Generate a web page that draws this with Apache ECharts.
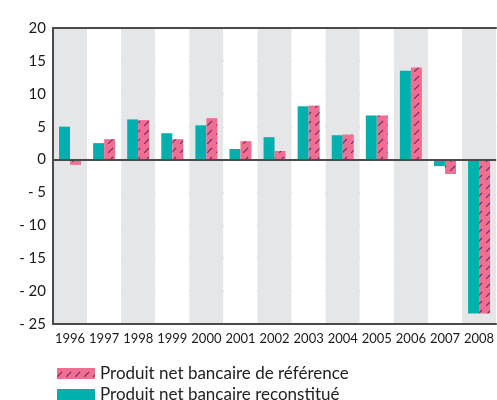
<!DOCTYPE html>
<html>
<head>
<meta charset="utf-8">
<script src="https://cdn.jsdelivr.net/npm/echarts@6/dist/echarts.min.js"></script>
<style>
  html, body { margin: 0; padding: 0; background: #fff; }
  #chart { width: 497px; height: 400px; }
</style>
</head>
<body>
<div id="chart"></div>
<script>
// années
var years = ['1996', '1997', '1998', '1999', '2000', '2001', '2002', '2003', '2004', '2005', '2006', '2007', '2008']
// PNB reconstitué (barres turquoise)
var pnbReconstitue = [5.0, 2.5, 6.1, 4.0, 5.2, 1.6, 3.4, 8.1, 3.7, 6.7, 13.5, -1.0, -23.4]
// PNB de référence (barres roses hachurées)
var pnbReference = [-0.8, 3.1, 6.0, 3.1, 6.3, 2.8, 1.3, 8.2, 3.8, 6.7, 14.0, -2.2, -23.4]
var legendNames = ['Produit net bancaire de référence', 'Produit net bancaire reconstitué']

// motif hachuré pour la série de référence
function hatch() {
  var c = document.createElement('canvas')
  c.width = 9
  c.height = 9
  var ctx = c.getContext('2d')
  ctx.fillStyle = '#ef6f92'
  ctx.fillRect(0, 0, 9, 9)
  ctx.strokeStyle = '#7d2a6c'
  ctx.lineWidth = 1.2
  ctx.beginPath()
  ctx.moveTo(0, 9)
  ctx.lineTo(5, 4)
  ctx.stroke()
  return c
}

var chart = echarts.init(document.getElementById('chart'))
var font = 'Lato, "DejaVu Sans", sans-serif'
var dark = { color: '#4a4a4a', width: 2 }

chart.setOption({
  animationDuration: 1,
  animationDurationUpdate: 1,
  grid: { left: 53, right: -3, top: 28, bottom: 76 },
  legend: {
    orient: 'vertical',
    left: 52,
    top: 360,
    height: 40,
    itemWidth: 38,
    itemHeight: 11,
    itemGap: 4,
    icon: 'rect',
    selectedMode: false,
    data: legendNames,
    textStyle: { fontSize: 17, color: '#222', fontFamily: font }
  },
  xAxis: [
    {
      type: 'category',
      data: years,
      position: 'bottom',
      axisLine: { onZero: false, lineStyle: dark },
      axisTick: { show: false },
      axisLabel: { color: '#1a1a1a', fontSize: 13, margin: 8, interval: 0, fontFamily: font },
      splitArea: { show: true, interval: 0, areaStyle: { color: ['#e5e6e8', '#ffffff'] } }
    },
    {
      type: 'category',
      data: years,
      position: 'top',
      axisLine: { onZero: false, lineStyle: dark },
      axisTick: { show: false },
      axisLabel: { show: false }
    }
  ],
  yAxis: {
    type: 'value',
    min: -25,
    max: 20,
    interval: 5,
    axisLine: { show: true, onZero: false, lineStyle: dark },
    axisTick: { show: false },
    axisLabel: {
      color: '#1a1a1a',
      fontSize: 15,
      margin: 7,
      fontFamily: font,
      formatter: function (v) { return v < 0 ? '- ' + (-v) : String(v) }
    },
    splitLine: { show: true, lineStyle: { color: '#b3b3b3', width: 2 } }
  },
  series: [
    {
      name: legendNames[1],
      type: 'bar',
      data: pnbReconstitue,
      barWidth: 11,
      barGap: '0%',
      itemStyle: { color: '#00b0ad' },
      markLine: {
        silent: true,
        symbol: 'none',
        label: { show: false },
        lineStyle: { color: '#4a4a4a', width: 2, type: 'solid' },
        data: [{ yAxis: 0 }]
      }
    },
    {
      name: legendNames[0],
      type: 'bar',
      data: pnbReference,
      barWidth: 11,
      barGap: '0%',
      itemStyle: { color: { image: hatch(), repeat: 'repeat' } }
    }
  ]
})
</script>
</body>
</html>
